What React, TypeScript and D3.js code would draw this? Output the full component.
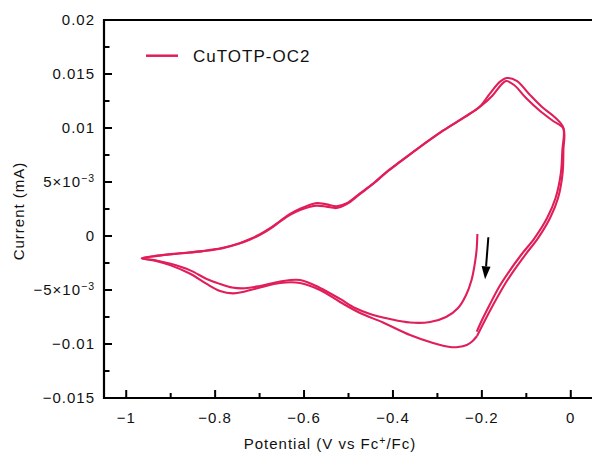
import React from "react";
import * as d3 from "d3";

// Cyclic voltammogram, two consecutive cycles: [potential (V vs Fc+/Fc), current (mA)]
const cycle1: [number, number][] = [
  [-0.2101, 0.00019], [-0.2119, -0.0013], [-0.2164, -0.00269], [-0.2232, -0.00407],
  [-0.2355, -0.00546], [-0.2535, -0.00667], [-0.2805, -0.0075], [-0.3165, -0.00796],
  [-0.3615, -0.00801], [-0.4065, -0.00769], [-0.4515, -0.00722], [-0.4853, -0.00667],
  [-0.519, -0.00583], [-0.564, -0.00481], [-0.609, -0.00407], [-0.654, -0.00421],
  [-0.699, -0.00463], [-0.733, -0.00484], [-0.762, -0.00477], [-0.789, -0.00444],
  [-0.819, -0.00398], [-0.856, -0.00318], [-0.9, -0.00258], [-0.935, -0.00224],
  [-0.965, -0.00206],
  [-0.93, -0.00182], [-0.88, -0.0016], [-0.83, -0.0014], [-0.785, -0.00112],
  [-0.745, -0.00066], [-0.72, -0.00025], [-0.699, 0.00016], [-0.6765, 0.00072],
  [-0.654, 0.00139], [-0.6315, 0.00204], [-0.609, 0.00252], [-0.5865, 0.0029],
  [-0.571, 0.00305], [-0.5495, 0.00293], [-0.5265, 0.00275], [-0.504, 0.00303],
  [-0.474, 0.00395], [-0.444, 0.00488], [-0.414, 0.00595], [-0.384, 0.00688],
  [-0.3465, 0.00803], [-0.2866, 0.00977], [-0.2378, 0.01102], [-0.204, 0.01197],
  [-0.177, 0.01296], [-0.157, 0.01398], [-0.1456, 0.01435], [-0.1275, 0.01398],
  [-0.1006, 0.01278], [-0.069, 0.01157], [-0.0398, 0.01065], [-0.0166, 0.00995],
  [-0.0166, 0.00796], [-0.0184, 0.00583], [-0.0286, 0.00352], [-0.0466, 0.00167],
  [-0.0736, -0.00019], [-0.1028, -0.00176], [-0.132, -0.00343], [-0.152, -0.00472],
  [-0.1748, -0.00639], [-0.195, -0.00796], [-0.2108, -0.00926],
];

const cycle2: [number, number][] = [
  [-0.2108, -0.00926], [-0.222, -0.00977], [-0.234, -0.01009], [-0.2535, -0.01028],
  [-0.2715, -0.01028], [-0.3098, -0.00991], [-0.3615, -0.00917], [-0.4223, -0.00801],
  [-0.474, -0.00713], [-0.519, -0.00611], [-0.564, -0.005], [-0.609, -0.00435],
  [-0.654, -0.00435], [-0.699, -0.00477], [-0.733, -0.00514], [-0.76, -0.00531],
  [-0.789, -0.00509], [-0.819, -0.00444], [-0.856, -0.0035], [-0.9, -0.00272],
  [-0.935, -0.00228], [-0.965, -0.00206],
  [-0.93, -0.00184], [-0.88, -0.00162], [-0.83, -0.00142], [-0.785, -0.00115],
  [-0.745, -0.0007], [-0.72, -0.0003], [-0.699, 0.0001], [-0.6765, 0.00066],
  [-0.654, 0.00133], [-0.6315, 0.00195], [-0.609, 0.0024], [-0.5865, 0.0027],
  [-0.571, 0.00281], [-0.5495, 0.00272], [-0.5265, 0.00259], [-0.504, 0.00295],
  [-0.474, 0.0039], [-0.444, 0.00484], [-0.414, 0.00592], [-0.384, 0.00686],
  [-0.3465, 0.00802], [-0.2866, 0.00977], [-0.2378, 0.01105], [-0.204, 0.01202],
  [-0.1816, 0.01321], [-0.159, 0.01429], [-0.1433, 0.01463], [-0.1207, 0.01435],
  [-0.0938, 0.01315], [-0.0646, 0.01194], [-0.0353, 0.01097], [-0.0166, 0.01],
  [-0.0189, 0.00796], [-0.0223, 0.00583], [-0.0342, 0.00352], [-0.0533, 0.00167],
  [-0.0814, -0.00019], [-0.1118, -0.00176], [-0.1411, -0.00343], [-0.1613, -0.00472],
  [-0.1827, -0.00639], [-0.2018, -0.00796], [-0.2115, -0.00886],
];

const xMajorTicks = [-1, -0.8, -0.6, -0.4, -0.2, 0];
const xMajorLabels = ["\u22121", "\u22120.8", "\u22120.6", "\u22120.4", "\u22120.2", "0"];
const xMinorTicks = [-0.9, -0.7, -0.5, -0.3, -0.1];

const yMajorTicks = [0.02, 0.015, 0.01, 0.005, 0, -0.005, -0.01, -0.015];
const yMajorLabels = ["0.02", "0.015", "0.01", "5\u00d710|\u22123", "0", "\u22125\u00d710|\u22123", "\u22120.01", "\u22120.015"];
const yMinorTicks = [0.0175, 0.0125, 0.0075, 0.0025, -0.0025, -0.0075, -0.0125];

const seriesName = "CuTOTP-OC2";
// scan-direction arrow: [start, tip]
const arrowPts: [number, number][] = [[-0.1854, -0.00012], [-0.1928, -0.00401]];

const W = 592, H = 452;
const COLOR = "#e01e5a";
const FONT = "'Liberation Sans', Arial, Helvetica, sans-serif";

export default function App() {
  const x = d3.scaleLinear().domain([-1.05, 0.05]).range([104, 593]);
  const y = d3.scaleLinear().domain([-0.015, 0.02]).range([398, 20]);
  const line = d3
    .line<[number, number]>()
    .x((d) => x(d[0]))
    .y((d) => y(d[1]))
    .curve(d3.curveCatmullRom.alpha(0.5));

  const [a0, a1] = arrowPts;
  const ax0 = x(a0[0]), ay0 = y(a0[1]), ax1 = x(a1[0]), ay1 = y(a1[1]);
  const ang = Math.atan2(ay1 - ay0, ax1 - ax0);
  const hl = 13, hw = 4.5;
  const bx = ax1 - hl * Math.cos(ang), by = ay1 - hl * Math.sin(ang);
  const head = [
    [ax1, ay1],
    [bx + hw * Math.sin(ang), by - hw * Math.cos(ang)],
    [bx - hw * Math.sin(ang), by + hw * Math.cos(ang)],
  ]
    .map((p) => p.join(","))
    .join(" ");

  const renderYLabel = (s: string) => {
    const parts = s.split("|");
    if (parts.length === 1) return s;
    return (
      <>
        <tspan>{parts[0]}</tspan>
        <tspan dy={-5.5} fontSize={10.5}>{parts[1]}</tspan>
      </>
    );
  };

  return (
    <svg
      width={W}
      height={H}
      style={{ position: "absolute", left: 0, top: 0, background: "#fff" }}
      fontFamily={FONT}
    >
      <rect x={0} y={0} width={W} height={H} fill="#fff" />
      <defs>
        <clipPath id="plot">
          <rect x={104} y={20} width={W - 104} height={378} />
        </clipPath>
      </defs>

      <g clipPath="url(#plot)">
        <path d={line(cycle1) || ""} fill="none" stroke={COLOR} strokeWidth={2.1} strokeLinejoin="round" />
        <path d={line(cycle2) || ""} fill="none" stroke={COLOR} strokeWidth={2.1} strokeLinejoin="round" />
      </g>

      {/* arrow */}
      <line x1={ax0} y1={ay0} x2={bx} y2={by} stroke="#000" strokeWidth={2} />
      <polygon points={head} fill="#000" />

      {/* frame */}
      <line x1={104} y1={20} x2={W} y2={20} stroke="#000" strokeWidth={2.2} />
      <line x1={104} y1={19} x2={104} y2={399.1} stroke="#000" strokeWidth={2.2} />
      <line x1={103} y1={398} x2={W} y2={398} stroke="#000" strokeWidth={2.2} />

      {/* x ticks */}
      {xMajorTicks.map((t, i) => (
        <g key={"xm" + i}>
          <line x1={x(t)} x2={x(t)} y1={398} y2={390} stroke="#000" strokeWidth={2} />
          <text x={x(t)} y={422.5} textAnchor="middle" fontSize={15} letterSpacing={1} fill="#111">
            {xMajorLabels[i]}
          </text>
        </g>
      ))}
      {xMinorTicks.map((t, i) => (
        <line key={"xn" + i} x1={x(t)} x2={x(t)} y1={398} y2={393} stroke="#000" strokeWidth={2} />
      ))}

      {/* y ticks */}
      {yMajorTicks.map((t, i) => (
        <g key={"ym" + i}>
          <line x1={104} x2={112} y1={y(t)} y2={y(t)} stroke="#000" strokeWidth={2} />
          <text x={95} y={y(t) + 5.4} textAnchor="end" fontSize={15} letterSpacing={1} fill="#111">
            {renderYLabel(yMajorLabels[i])}
          </text>
        </g>
      ))}
      {yMinorTicks.map((t, i) => (
        <line key={"yn" + i} x1={104} x2={109.5} y1={y(t)} y2={y(t)} stroke="#000" strokeWidth={2} />
      ))}

      {/* axis titles */}
      <text
        transform="translate(24,211) rotate(-90)"
        textAnchor="middle"
        fontSize={15}
        letterSpacing={1}
        fill="#111"
      >
        Current (mA)
      </text>
      <text x={330} y={449} textAnchor="middle" fontSize={15} letterSpacing={1} fill="#111">
        Potential (V vs Fc
        <tspan dy={-5.5} fontSize={10.5}>+</tspan>
        <tspan dy={5.5}>/Fc)</tspan>
      </text>

      {/* legend */}
      <line x1={146} x2={178} y1={55.7} y2={55.7} stroke={COLOR} strokeWidth={2.5} />
      <text x={193} y={62.3} fontSize={17} letterSpacing={1} fill="#111">
        {seriesName}
      </text>
    </svg>
  );
}
